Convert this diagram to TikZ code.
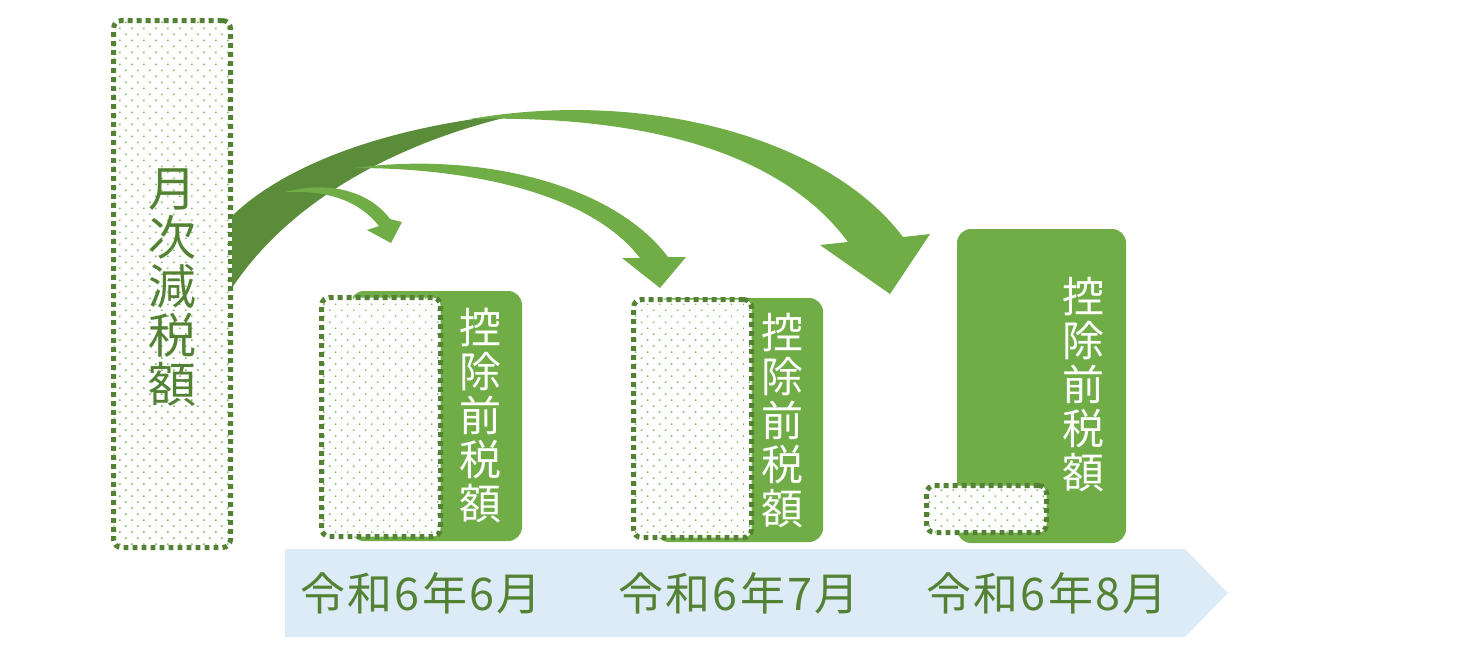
\documentclass[tikz,border=0pt]{standalone}
\usepackage{fontspec}
\setmainfont{Noto Sans CJK JP}
\newfontfamily\datefont[LetterSpace=5]{Noto Sans CJK JP}
\usetikzlibrary{patterns.meta}
\definecolor{kgreen}{HTML}{548235}
\definecolor{lgreen}{HTML}{70AD47}
\definecolor{rgreen}{HTML}{5A8C39}
\definecolor{dgreen}{HTML}{7DB65A}
\definecolor{lblue}{HTML}{DDEBF7}

\begin{document}
\begin{tikzpicture}[x=0.5pt,y=-0.5pt,
  dotbox/.style={draw=kgreen, line width=2.5pt, dash pattern=on 2.4pt off 2.1pt,
    rounded corners=4pt, preaction={fill=white},
    pattern={Dots[angle=45,distance=4.24pt,radius=0.5pt]}, pattern color=dgreen, inner sep=0pt},
  greenbox/.style={fill=lgreen, rounded corners=7pt, inner sep=0pt},
  vlabel/.style={align=center, inner sep=0pt},
  datelabel/.style={text=kgreen, font=\datefont\fontsize{22.5}{24}\selectfont, inner sep=0pt},
  ribbon/.style={fill=lgreen},
  ribbonback/.style={fill=rgreen}]
\useasboundingbox (0,0) rectangle (1474,664);
\fill[lblue] (285,549) -- (1185,549) -- (1228,593) -- (1185,637) -- (285,637) -- cycle;
\node[dotbox, minimum width=58.5pt, minimum height=263.5pt] (getsubox) at (172,284) {};
\node[vlabel, text=kgreen, font=\fontsize{24}{24.5}\selectfont] (getsu) at (172,288) {月\\次\\減\\税\\額};
\node[greenbox, minimum width=86pt, minimum height=125pt] (mae1) at (436,416) {};
\node[greenbox, minimum width=84pt, minimum height=122pt] (mae2) at (739,420) {};
\node[greenbox, minimum width=84.5pt, minimum height=157pt] (mae3) at (1041.5,386) {};
\node[dotbox, minimum width=59.5pt, minimum height=119.5pt] (gen1) at (381,417) {};
\node[dotbox, minimum width=59pt, minimum height=119pt] (gen2) at (692.5,418.5) {};
\node[dotbox, minimum width=60pt, minimum height=23.5pt] (gen3) at (986.5,509) {};
\node[vlabel, text=white, font=\fontsize{21}{22}\selectfont] (kojo1) at (480,416) {控\\除\\前\\税\\額};
\node[vlabel, text=white, font=\fontsize{21}{22}\selectfont] (kojo2) at (782,421) {控\\除\\前\\税\\額};
\node[vlabel, text=white, font=\fontsize{21}{22}\selectfont] (kojo3) at (1083,385) {控\\除\\前\\税\\額};
\node[datelabel] (jun) at (421,593) {令和6年6月};
\node[datelabel] (jul) at (739,593) {令和6年7月};
\node[datelabel] (aug) at (1047,593) {令和6年8月};
\coordinate (tip1) at (391,243);
\coordinate (tip2) at (660,288);
\coordinate (tip3) at (890,294);
\fill[ribbonback] (232,288) .. controls (290,200) and (400,140) .. (525,113)
  .. controls (400,124) and (290,160) .. (232,216) -- cycle;
\fill[ribbon] (285,192) .. controls (330,180) and (370,192) .. (390,219) -- (402,222) -- (tip1)
  -- (367,230) -- (379,226) .. controls (360,202) and (330,190) .. (285,192) -- cycle;
\fill[ribbon] (355,168) .. controls (470,152) and (610,180) .. (668,257) -- (686,257) -- (tip2)
  -- (622,258) -- (640,258) .. controls (590,193) and (470,168) .. (355,168) -- cycle;
\fill[ribbon] (470,119) .. controls (650,88) and (830,140) .. (903,237) -- (930,234) -- (tip3)
  -- (820,245) -- (848,242) .. controls (780,150) and (640,115) .. (470,119) -- cycle;
\end{tikzpicture}
\end{document}
